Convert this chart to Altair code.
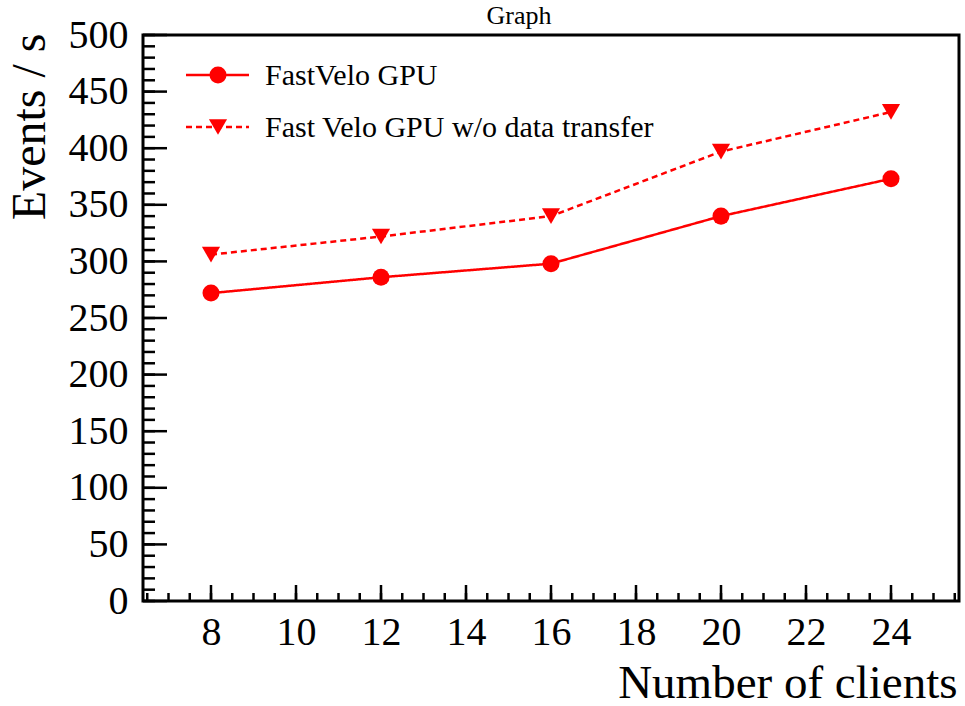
import altair as alt
import pandas as pd

# Throughput measurements (events per second) versus number of clients
clients = [8, 12, 16, 20, 24]
fastvelo_gpu = [272, 286, 298, 340, 373]
fastvelo_gpu_no_transfer = [306, 322, 340, 397, 432]
series_names = ["FastVelo GPU", "Fast Velo GPU w/o data transfer"]

# Axis ticks
x_major = [8, 10, 12, 14, 16, 18, 20, 22, 24]
y_major = [0, 50, 100, 150, 200, 250, 300, 350, 400, 450, 500]
x_minor = [6.5 + 0.5 * i for i in range(39)]
y_minor = [10 * i for i in range(51)]

W, H = 816, 566
FONT = "Liberation Serif"
RED = "#ff0000"

df = pd.DataFrame({
    "clients": clients * 2,
    "rate": fastvelo_gpu + fastvelo_gpu_no_transfer,
    "series": [series_names[0]] * len(clients) + [series_names[1]] * len(clients),
})

x_scale = alt.Scale(domain=[6.4, 25.6], nice=False, zero=False)
y_scale = alt.Scale(domain=[0, 500], nice=False)

x_axis = alt.Axis(
    values=x_major, ticks=False, tickSize=0, domain=False, grid=False,
    labelFont=FONT, labelFontSize=40, labelColor="black", labelPadding=11,
    title="Number of clients", titleFont=FONT, titleFontSize=47,
    titleFontWeight="normal", titleColor="black", titleAlign="right",
    titleBaseline="alphabetic", titleX=W - 2, titleY=96, titleAnchor="end",
)
y_axis = alt.Axis(
    values=y_major, ticks=False, tickSize=0, domain=False, grid=False,
    labelFont=FONT, labelFontSize=40, labelColor="black", labelPadding=15,
    title="Events / s", titleFont=FONT, titleFontSize=48,
    titleFontWeight="normal", titleColor="black", titleAngle=-90,
    titleAlign="right", titleBaseline="alphabetic", titleX=-99, titleY=-2,
    titleAnchor="end",
)

X = alt.X("clients:Q", scale=x_scale, axis=x_axis)
Y = alt.Y("rate:Q", scale=y_scale, axis=y_axis)

series_scale_dash = alt.Scale(domain=series_names, range=[[1, 0], [6, 4]])
series_scale_shape = alt.Scale(domain=series_names, range=["circle", "triangle-down"])
series_scale_size = alt.Scale(domain=series_names, range=[290, 330])

lines = alt.Chart(df).mark_line(color=RED, strokeWidth=2.5).encode(
    x=X, y=Y,
    strokeDash=alt.StrokeDash("series:N", scale=series_scale_dash, legend=None),
    detail="series:N",
)
points = alt.Chart(df).mark_point(filled=True, color=RED, opacity=1).encode(
    x=X, y=Y,
    shape=alt.Shape("series:N", scale=series_scale_shape, legend=None),
    size=alt.Size("series:N", scale=series_scale_size, legend=None),
)

# Inward tick marks along the left and bottom edges
def y_ticks(vals, length):
    return alt.Chart(pd.DataFrame({"rate": vals})).mark_rule(
        color="black", strokeWidth=2.5
    ).encode(y=Y, x=alt.value(0), x2=alt.value(length))

def x_ticks(vals, length):
    return alt.Chart(pd.DataFrame({"clients": vals})).mark_rule(
        color="black", strokeWidth=2.5
    ).encode(x=X, y=alt.value(H), y2=alt.value(H - length))

# Legend box entries
def legend_entry(name, row_y, dash, shape, size):
    d = pd.DataFrame({"label": [name]})
    line = alt.Chart(d).mark_rule(color=RED, strokeWidth=2.5, strokeDash=dash).encode(
        x=alt.value(43), x2=alt.value(106), y=alt.value(row_y)
    )
    mark = alt.Chart(d).mark_point(
        filled=True, color=RED, opacity=1, shape=shape, size=size
    ).encode(x=alt.value(75), y=alt.value(row_y))
    text = alt.Chart(d).mark_text(
        font=FONT, fontSize=30, color="black", align="left", baseline="alphabetic"
    ).encode(x=alt.value(122), y=alt.value(row_y + 10), text="label:N")
    return line + mark + text

# Canvas title above the frame
title_text = alt.Chart(pd.DataFrame({"t": ["Graph"]})).mark_text(
    font=FONT, fontSize=26, color="black", align="center", baseline="alphabetic"
).encode(x=alt.value(376), y=alt.value(-11), text="t:N")

chart = alt.layer(
    y_ticks(y_minor, 12), y_ticks(y_major, 24),
    x_ticks(x_minor, 8), x_ticks(x_major, 16),
    lines, points,
    legend_entry(series_names[0], 40, [1, 0], "circle", 290),
    legend_entry(series_names[1], 92, [6, 4], "triangle-down", 330),
    title_text,
).properties(
    width=W, height=H,
    autosize=alt.AutoSizeParams(type="none"),
    padding={"left": 143, "top": 35, "right": 6, "bottom": 105},
    background="white",
).configure_view(
    stroke="black", strokeWidth=3
)

chart.save("out.html", embed_options={"renderer": "svg", "actions": False})
